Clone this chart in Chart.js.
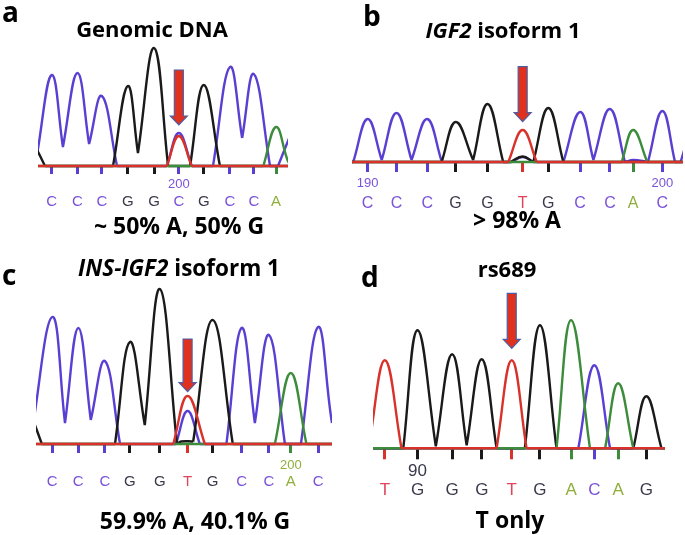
<!DOCTYPE html>
<html>
<head>
<meta charset="utf-8">
<script src="https://cdn.jsdelivr.net/npm/chart.js@4.4.1/dist/chart.umd.min.js"></script>
<style>
  body { margin: 0; background: #fff; }
  #fig { position: relative; width: 685px; height: 535px; overflow: hidden; font-family: 'Open Sans', sans-serif; }
  #fig canvas { position: absolute; }
  .txt { position: absolute; white-space: nowrap; font-weight: 700; color: #000; line-height: 1; }
  .panel { font-size: 28px; }
  .title { font-size: 22px; width: 400px; text-align: center; }
  .note { font-size: 23px; width: 400px; text-align: center; }
</style>
</head>
<body>
<div id="fig">
  <canvas id="chart-a" width="340" height="255" style="left:0;top:0"></canvas>
  <canvas id="chart-b" width="345" height="255" style="left:340px;top:0"></canvas>
  <canvas id="chart-c" width="340" height="280" style="left:0;top:255px"></canvas>
  <canvas id="chart-d" width="345" height="280" style="left:340px;top:255px"></canvas>

  <div class="txt panel" style="left:2px;top:-3px">a</div>
  <div class="txt panel" style="left:363px;top:1px">b</div>
  <div class="txt panel" style="left:2px;top:260px">c</div>
  <div class="txt panel" style="left:361px;top:262px">d</div>

  <div class="txt title" style="left:-48px;top:17px">Genomic DNA</div>
  <div class="txt title" style="left:303px;top:18px"><i>IGF2</i> isoform 1</div>
  <div class="txt title" style="left:-21px;top:257px;font-size:22.5px"><i>INS-IGF2</i> isoform 1</div>
  <div class="txt title" style="left:307px;top:257px">rs689</div>

  <div class="txt note" style="left:-21px;top:214px">~ 50% A, 50% G</div>
  <div class="txt note" style="left:317px;top:208px">&gt; 98% A</div>
  <div class="txt note" style="left:-5px;top:509px">59.9% A, 40.1% G</div>
  <div class="txt note" style="left:310px;top:508px">T only</div>
</div>

<script>
// ─── Data: base calls, peak positions (base units) and traces (x = base position, y = signal) ───
// a) genomic DNA
const basesA = ['C', 'C', 'C', 'G', 'G', 'C', 'G', 'C', 'C', 'A'];
const posA   = [195.00, 196.03, 197.01, 198.05, 199.11, 200.10, 201.10, 202.15, 203.11, 204.00];
const numsA  = ['', '', '', '', '', '200', '', '', '', ''];
const traceA_C = [[194.40, 100], [195.00, 910], [195.45, 190], [196.03, 930], [196.50, 220], [197.01, 700], [197.62, 0], [199.62, 0], [200.10, 330], [200.62, 0], [201.47, 0], [202.15, 990], [202.64, 280], [203.11, 920], [203.76, 0], [204.08, 0], [204.75, 420]];
const traceA_G = [[194.30, 220], [194.73, 0], [197.46, 0], [198.05, 800], [198.46, 130], [199.11, 1180], [199.67, 0], [200.55, 0], [201.10, 810], [201.75, 0], [204.80, 0]];
const traceA_T = [[194.30, 0], [199.62, 0], [200.10, 300], [200.62, 0], [204.80, 0]];
const traceA_A = [[194.30, 0], [203.49, 0], [204.00, 390], [204.46, 60], [204.60, 0], [204.80, 0]];

// b) IGF2 isoform 1
const basesB = ['C', 'C', 'C', 'G', 'G', 'T', 'G', 'C', 'C', 'A', 'C'];
const posB   = [190.00, 190.98, 192.02, 192.98, 194.07, 195.26, 196.13, 197.21, 198.22, 199.01, 200.00];
const numsB  = ['190', '', '', '', '', '', '', '', '', '', '200'];
const traceB_C = [[189.30, 0], [189.51, 0], [190.00, 430], [190.48, 20], [190.98, 490], [191.49, 20], [192.02, 430], [192.52, 0], [194.90, 0], [195.26, 50], [195.62, 0], [196.64, 0], [197.21, 500], [197.66, 20], [198.22, 530], [198.73, 0], [199.01, 20], [199.51, 0], [200.00, 510], [200.43, 0], [200.62, 0], [200.80, 180]];
const traceB_G = [[189.30, 0], [192.51, 0], [192.99, 400], [193.58, 20], [194.07, 580], [194.60, 0], [194.85, 0], [195.26, 55], [195.62, 0], [196.13, 540], [196.64, 0], [200.80, 0]];
const traceB_T = [[189.30, 0], [194.77, 0], [195.26, 320], [195.74, 0], [200.80, 0]];
const traceB_A = [[189.30, 0], [198.62, 0], [199.01, 320], [199.49, 0], [200.80, 0]];

// c) INS-IGF2 isoform 1
const basesC = ['C', 'C', 'C', 'G', 'G', 'T', 'G', 'C', 'C', 'A', 'C'];
const posC   = [191.00, 191.98, 192.98, 193.92, 195.05, 196.09, 197.03, 198.12, 199.15, 199.97, 201.00];
const numsC  = ['', '', '', '', '', '', '', '', '', '200', ''];
const traceC_C = [[190.20, 60], [191.00, 1270], [191.48, 210], [191.98, 1160], [192.45, 240], [192.98, 830], [193.55, 0], [195.65, 0], [196.09, 330], [196.55, 0], [197.55, 0], [198.12, 1160], [198.62, 210], [199.15, 1090], [199.75, 0], [200.35, 0], [201.00, 1170], [201.52, 210], [201.70, 60]];
const traceC_G = [[190.20, 300], [190.61, 0], [193.36, 0], [193.92, 1020], [194.48, 190], [195.05, 1550], [195.69, 0], [195.85, 25], [196.30, 25], [197.03, 1240], [197.79, 0], [201.70, 0]];
const traceC_T = [[190.20, 0], [195.55, 0], [196.09, 480], [196.74, 0], [201.70, 0]];
const traceC_A = [[190.20, 0], [199.37, 0], [199.97, 710], [200.56, 0], [201.70, 0]];

// d) rs689
const basesD = ['T', 'G', 'G', 'G', 'T', 'G', 'A', 'C', 'A', 'G'];
const posD   = [89.00, 90.12, 91.31, 92.33, 93.36, 94.33, 95.40, 96.20, 97.02, 97.99];
const numsD  = ['', '90', '', '', '', '', '', '', '', ''];
const traceD_T = [[88.45, 30], [89.00, 880], [89.57, 0], [92.84, 0], [93.36, 880], [93.87, 0], [98.80, 0]];
const traceD_G = [[88.45, 0], [89.63, 0], [90.12, 1180], [90.75, 20], [91.31, 940], [91.81, 30], [92.33, 890], [92.84, 0], [93.81, 0], [94.33, 1230], [94.90, 0], [97.54, 0], [97.99, 520], [98.51, 0], [98.80, 0]];
const traceD_A = [[88.45, 0], [94.90, 0], [95.40, 1280], [96.05, 0], [96.57, 0], [97.02, 650], [97.54, 0], [98.80, 0]];
const traceD_C = [[88.45, 0], [95.65, 0], [96.20, 830], [96.74, 0], [98.80, 0]];

// ─── Colours ──────────────────────────────────────────────────────────────────
const TRACE_COLOR = { A: '#3c8c3c', C: '#5a3fd2', G: '#1a1a1a', T: '#d8322a' };
const CALL_COLOR  = { A: '#8fae3c', C: '#7b52d8', G: '#3a3a4c', T: '#e0445c' };

// ─── Red "SNP" arrow drawn above the peak ───────────────────────────────────
const snpArrow = {
  id: 'snpArrow',
  afterDatasetsDraw(chart, args, opts) {
    if (opts.x == null) return;
    const { ctx, scales: { x, y } } = chart;
    const px = x.getPixelForValue(opts.x);
    const top = y.getPixelForValue(opts.top);
    const tip = y.getPixelForValue(opts.tip);
    const sw = 4.5, hw = 8.5, hl = 9;
    ctx.save();
    ctx.beginPath();
    ctx.moveTo(px - sw, top);
    ctx.lineTo(px + sw, top);
    ctx.lineTo(px + sw, tip - hl);
    ctx.lineTo(px + hw, tip - hl);
    ctx.lineTo(px, tip);
    ctx.lineTo(px - hw, tip - hl);
    ctx.lineTo(px - sw, tip - hl);
    ctx.closePath();
    ctx.fillStyle = '#e0301e';
    ctx.fill();
    ctx.lineWidth = 1.2;
    ctx.strokeStyle = '#4b5fa6';
    ctx.stroke();
    ctx.restore();
  },
};

// Break the line at every valley / base point so each peak is its own bezier
// segment (straight-ish flanks, rounded tops, like a real chromatogram).
function toPeaks(pts) {
  const out = [];
  pts.forEach(([x, y], i) => {
    out.push({ x, y });
    const prev = pts[i - 1], next = pts[i + 1];
    if (prev && next && y <= prev[1] && y <= next[1]) {
      out.push({ x, y: null });
      out.push({ x, y });
    }
  });
  return out;
}

function buildPanel(canvasId, p) {
  const traces = [['T', p.T], ['A', p.A], ['G', p.G], ['C', p.C]]; // first is drawn on top
  const setTicks = scale => { scale.ticks = p.pos.map(v => ({ value: v })); };
  const fixHeight = h => scale => { scale.height = h; scale.paddingLeft = 0; scale.paddingRight = 0; };
  const font = size => ({ family: "'Liberation Sans', Arial, sans-serif", size });

  return new Chart(document.getElementById(canvasId), {
    type: 'line',
    data: {
      datasets: traces.map(([b, pts]) => ({
        label: b,
        data: toPeaks(pts),
        borderColor: TRACE_COLOR[b],
        borderWidth: 2.4,
        pointRadius: 0,
        fill: false,
        tension: 0.42,
        spanGaps: false,
        clip: { left: 0, right: 0, top: false, bottom: 2 },
      })),
    },
    options: {
      responsive: false,
      animation: false,
      events: [],
      layout: { padding: p.pad },
      plugins: { legend: { display: false }, tooltip: { enabled: false }, snpArrow: p.arrow },
      scales: {
        y: { display: false, min: 0, max: p.yMax },
        x: {
          type: 'linear', position: 'bottom', weight: 0, min: p.xMin, max: p.xMax,
          afterBuildTicks: setTicks,
          afterFit: fixHeight(p.numAxisH),
          border: { display: false },
          grid: {
            drawOnChartArea: false, drawTicks: true, tickLength: p.tickLen, tickWidth: 3,
            tickColor: c => TRACE_COLOR[p.bases[c.index]],
          },
          ticks: {
            autoSkip: false, maxRotation: 0, padding: p.numPad, font: font(p.numSize),
            color: c => CALL_COLOR[p.bases[c.index]],
            callback: (v, i) => p.nums[i],
          },
        },
        x2: {
          type: 'linear', position: 'bottom', weight: 1, min: p.xMin, max: p.xMax,
          afterBuildTicks: setTicks,
          afterFit: fixHeight(20),
          border: { display: false },
          grid: { display: false, drawTicks: false },
          ticks: {
            autoSkip: false, maxRotation: 0, padding: 0, font: font(p.baseSize),
            color: c => CALL_COLOR[p.bases[c.index]],
            callback: (v, i) => p.bases[i],
          },
        },
      },
    },
    plugins: [snpArrow],
  });
}

// ─── Panels ─────────────────────────────────────────────────────────────────
buildPanel('chart-a', {
  bases: basesA, pos: posA, nums: numsA, C: traceA_C, G: traceA_G, T: traceA_T, A: traceA_A,
  xMin: 194.45, xMax: 204.48, yMax: 1260,
  pad: { left: 38, right: 52, top: 40, bottom: 42.5 },
  numAxisH: 26.5, tickLen: 8, numPad: 2.5, numSize: 13, baseSize: 15,
  arrow: { x: 200.10, top: 960, tip: 410 },
});

buildPanel('chart-b', {
  bases: basesB, pos: posB, nums: numsB, C: traceB_C, G: traceB_G, T: traceB_T, A: traceB_A,
  xMin: 189.47, xMax: 200.70, yMax: 1020,
  pad: { left: 12, right: 2, top: 60, bottom: 41.5 },
  numAxisH: 31.5, tickLen: 10, numPad: 3.5, numSize: 13, baseSize: 16,
  arrow: { x: 195.26, top: 953, tip: 403 },
});

buildPanel('chart-c', {
  bases: basesC, pos: posC, nums: numsC, C: traceC_C, G: traceC_G, T: traceC_T, A: traceC_A,
  xMin: 190.39, xMax: 201.52, yMax: 1590,
  pad: { left: 36, right: 8, top: 30, bottom: 42 },
  numAxisH: 29, tickLen: 9, numPad: 4.5, numSize: 13, baseSize: 15,
  arrow: { x: 196.09, top: 1050, tip: 523 },
});

buildPanel('chart-d', {
  bases: basesD, pos: posD, nums: numsD, C: traceD_C, G: traceD_G, T: traceD_T, A: traceD_A,
  xMin: 88.59, xMax: 98.63, yMax: 1483,
  pad: { left: 33, right: 20, top: 45, bottom: 34.9 },
  numAxisH: 31.8, tickLen: 11, numPad: 1.5, numSize: 17, baseSize: 17,
  arrow: { x: 93.36, top: 1550, tip: 1000 },
});
</script>
</body>
</html>
